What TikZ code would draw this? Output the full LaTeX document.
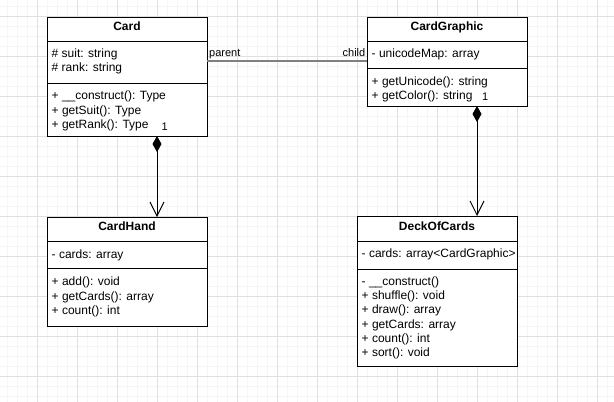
\documentclass[tikz,border=0pt]{standalone}
\usepackage{fontspec}
\setmainfont{Liberation Sans}
\usetikzlibrary{arrows.meta}
\tikzset{
  minorgrid/.style={draw=black!4,line width=1pt},
  majorgrid/.style={draw=black!12,line width=1pt},
  classbox/.style={draw=black,fill=white,line width=1pt,inner sep=0pt,outer sep=0pt,anchor=north west,rectangle},
  sep/.style={draw=black,line width=1pt},
  ttl/.style={font=\fontsize{12}{14}\selectfont\bfseries,inner sep=0pt,anchor=base},
  txt/.style={font=\fontsize{12}{14}\selectfont,inner sep=0pt,anchor=base west},
  lbl/.style={font=\fontsize{11}{13}\selectfont,inner sep=0pt},
  comp/.style={draw=black,line width=1pt,{Diamond[length=16pt,width=9pt]}-{Straight Barb[length=14pt,width=14pt]}},
  assocline/.style={draw=black!50,line width=1.6pt}
}
\begin{document}
\begin{tikzpicture}[x=1pt,y=-1pt]
\useasboundingbox (0,0) rectangle (614,402);
\fill[white] (0,0) rectangle (614,402);
\foreach \x in {7,17,...,607} \draw[minorgrid] (\x,0) -- (\x,402);
\foreach \y in {6,16,...,396} \draw[minorgrid] (0,\y) -- (614,\y);
\foreach \x in {37,77,...,597} \draw[majorgrid] (\x,0) -- (\x,402);
\foreach \y in {16,56,...,376} \draw[majorgrid] (0,\y) -- (614,\y);

% Card
\node[classbox,minimum width=160pt,minimum height=119pt] (card) at (47,17) {};
\draw[sep] (47,41) -- (207,41);
\draw[sep] (47,83) -- (207,83);
\node[ttl] (cardT) at (127,30.5) {Card};
\node[txt] (card1) at (51.5,57) {\# suit: string};
\node[txt] (card2) at (51.5,71.5) {\# rank: string};
\node[txt] (card3) at (51.5,99.5) {+ \_\_construct(): Type};
\node[txt] (card4) at (51.5,114) {+ getSuit(): Type};
\node[txt] (card5) at (51.5,128.3) {+ getRank(): Type};

% CardGraphic
\node[classbox,minimum width=160pt,minimum height=89pt] (cg) at (367,17) {};
\draw[sep] (367,41) -- (527,41);
\draw[sep] (367,68) -- (527,68);
\node[ttl] (cgT) at (447,30.5) {CardGraphic};
\node[txt] (cg1) at (371.5,57) {- unicodeMap: array};
\node[txt] (cg2) at (371.5,85) {+ getUnicode(): string};
\node[txt] (cg3) at (371.5,99.3) {+ getColor(): string};

% CardHand
\node[classbox,minimum width=160pt,minimum height=109pt] (hand) at (47,217) {};
\draw[sep] (47,241) -- (207,241);
\draw[sep] (47,268) -- (207,268);
\node[ttl] (handT) at (127,230.5) {CardHand};
\node[txt] (hand1) at (51.5,258) {- cards: array};
\node[txt] (hand2) at (51.5,285.5) {+ add(): void};
\node[txt] (hand3) at (51.5,300) {+ getCards(): array};
\node[txt] (hand4) at (51.5,314.3) {+ count(): int};

% DeckOfCards
\node[classbox,minimum width=160pt,minimum height=150pt] (deck) at (357,216) {};
\draw[sep] (357,241) -- (517,241);
\draw[sep] (357,269) -- (517,269);
\node[ttl] (deckT) at (437,230) {DeckOfCards};
\node[txt] (deck1) at (361.5,257.3) {- cards: array<CardGraphic>};
\node[txt] (deck2) at (361.5,285) {- \_\_construct()};
\node[txt] (deck3) at (361.5,299.3) {+ shuffle(): void};
\node[txt] (deck4) at (361.5,313.7) {+ draw(): array};
\node[txt] (deck5) at (361.5,328) {+ getCards: array};
\node[txt] (deck6) at (361.5,342.4) {+ count(): int};
\node[txt] (deck7) at (361.5,356.8) {+ sort(): void};

% association
\coordinate (assoc) at (0,61);
\draw[assocline] (card.east |- assoc) -- (cg.west |- assoc);
\node[lbl,anchor=base west] (parentL) at (209,56.7) {parent};
\node[lbl,anchor=base east] (childL) at (365.5,56.7) {child};

% compositions
\draw[comp] ([xshift=30pt]card.south) -- ([xshift=30pt]hand.north);
\draw[comp] ([xshift=30pt]cg.south) -- ([xshift=40pt]deck.north);
\node[lbl,anchor=base west] (one1) at (161.5,130) {1};
\node[lbl,anchor=base west] (one2) at (482,100.7) {1};
\end{tikzpicture}
\end{document}
